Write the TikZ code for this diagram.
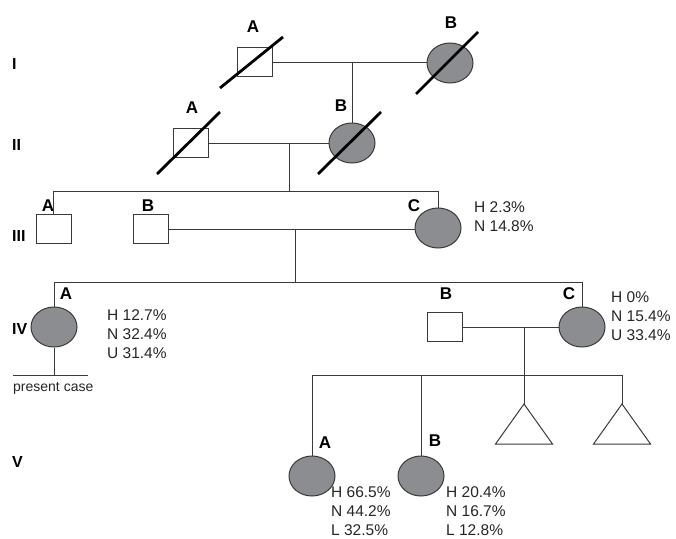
\documentclass[tikz,border=0pt]{standalone}
\usepackage{fontspec}
\setmainfont{Liberation Sans}
\usetikzlibrary{shapes.geometric,calc}
\definecolor{fillgray}{HTML}{8C8D90}
\definecolor{linegray}{HTML}{3A3A3A}
\tikzset{
  male/.style={draw=linegray, line width=1pt, fill=white, rectangle, minimum width=35pt, minimum height=29pt, inner sep=0pt},
  female/.style={draw=linegray, line width=1pt, fill=fillgray, ellipse, minimum width=46pt, minimum height=40pt, inner sep=0pt},
  link/.style={draw=linegray, line width=1pt},
  dead/.style={draw=black, line width=2.8pt},
  lbl/.style={font=\fontsize{17}{17}\selectfont\bfseries, inner sep=0pt},
  gen/.style={font=\fontsize{16}{16}\selectfont\bfseries, inner sep=0pt, anchor=west},
  pct/.style={font=\fontsize{15.5}{19}\selectfont, align=left, inner sep=0pt, anchor=north west, text=black!85},
}
\begin{document}
\begin{tikzpicture}[x=1pt,y=-1pt]
\useasboundingbox (0,0) rectangle (676,538);
% generation labels
\node[gen] (gI) at (12,64) {I};
\node[gen] (gII) at (12,145) {II};
\node[gen] (gIII) at (12,236) {III};
\node[gen] (gIV) at (12,329) {IV};
\node[gen] (gV) at (12,462) {V};
% Gen I
\node[male] (IA) at (254.5,62) {};
\node[female] (IB) at (450,63) {};
\node[lbl] (lIA) at (253,27) {A};
\node[lbl] (lIB) at (451,23) {B};
\draw[link] (IA.east) -- (IA.east -| IB.west);
% Gen II
\node[male] (IIA) at (191,143) {};
\node[female] (IIB) at (352,143) {};
\node[lbl] (lIIA) at (192,108) {A};
\node[lbl] (lIIB) at (341,106) {B};
\draw[link] (IIB.north |- IA.east) -- (IIB.north);
\draw[link] (IIA.east) -- (IIB.west);
\coordinate (mII) at (289,143);
% Gen III
\node[male] (IIIA) at (53.5,229) {};
\node[male] (IIIB) at (151,229) {};
\node[female] (IIIC) at (438,228) {};
\node[lbl] (lIIIA) at (48,206) {A};
\node[lbl] (lIIIB) at (148,206) {B};
\node[lbl] (lIIIC) at (414,206) {C};
\node[pct] (tIIIC) at (474,201) {H 2.3\%\\N 14.8\%};
\draw[link] (IIIA.north) -- ++(0,-22.5) coordinate (sIII) -| (IIIC.north);
\draw[link] (mII) -- (mII |- sIII);
\draw[link] (IIIB.east) -- (IIIB.east -| IIIC.west);
\coordinate (mIII) at (295,229);
% Gen IV
\node[female] (IVA) at (54,327) {};
\node[male] (IVB) at (444.5,327) {};
\node[female] (IVC) at (582,327) {};
\node[lbl] (lIVA) at (66,294) {A};
\node[lbl] (lIVB) at (446,294) {B};
\node[lbl] (lIVC) at (569,294) {C};
\node[pct] (tIVA) at (107,309) {H 12.7\%\\N 32.4\%\\U 31.4\%};
\node[pct] (tIVC) at (611,291) {H 0\%\\N 15.4\%\\U 33.4\%};
\draw[link] (IVA.north) -- ++(0,-24) coordinate (sIV) -| (IVC.north);
\draw[link] (mIII) -- (mIII |- sIV);
\draw[link] (IVB.east) -- (IVC.west);
\coordinate (mIV) at (524,327);
% present case
\draw[link] (IVA.south) -- ++(0,28) coordinate (pc);
\coordinate (pcL) at ($(pc)+(-41,0)$);
\coordinate (pcR) at ($(pc)+(34,0)$);
\draw[link] (pcL) -- (pcR);
\node[font=\fontsize{14}{14}\selectfont, inner sep=0pt, anchor=west, text=black!85] (tpc) at (13,388) {present case};
% Gen V
\node[female] (VA) at (312,476) {};
\node[female] (VB) at (421,476) {};
\node[lbl] (lVA) at (325,443) {A};
\node[lbl] (lVB) at (435,441) {B};
\node[pct] (tVA) at (331,486) {H 66.5\%\\N 44.2\%\\L 32.5\%};
\node[pct] (tVB) at (446,486) {H 20.4\%\\N 16.7\%\\L 12.8\%};
\coordinate (T1) at (524,404);
\coordinate (T2) at (622,404);
\draw[link] (T1) -- ++(28.5,40) -- ++(-57,0) -- cycle;
\draw[link] (T2) -- ++(28.5,40) -- ++(-57,0) -- cycle;
\draw[link] (VA.north) -- ++(0,-80) coordinate (sV) -| (T2);
\draw[link] (VB.north) -- (VB.north |- sV);
\draw[link] (mIV) -- (T1);
% deceased slashes
\draw[dead] (220,88) -- (283,37);
\draw[dead] (416,94) -- (478,32);
\draw[dead] (157,174) -- (220,112);
\draw[dead] (318,174) -- (381,112);
\end{tikzpicture}
\end{document}
